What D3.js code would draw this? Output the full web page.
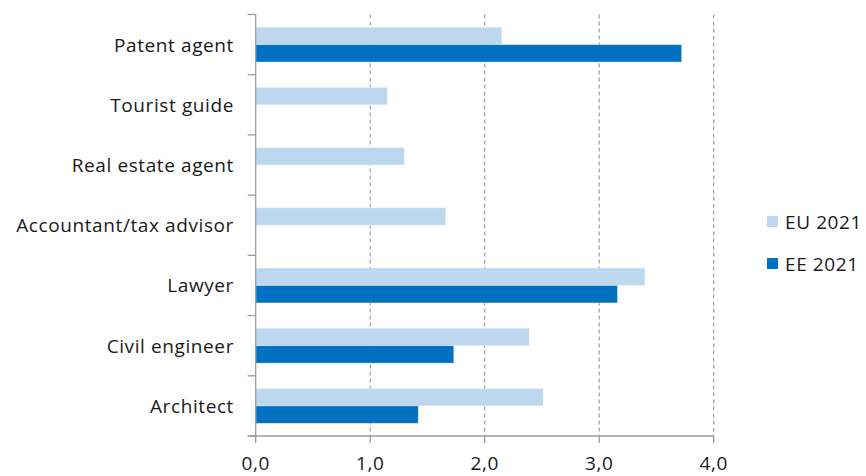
<!DOCTYPE html>
<html><head><meta charset="utf-8">
<script src="https://cdn.jsdelivr.net/npm/d3@7"></script>
<style>body{margin:0;background:#fff;} svg{display:block;}</style>
</head><body>
<svg id="c" width="866" height="476"></svg>
<script>
const categories = ["Patent agent","Tourist guide","Real estate agent","Accountant/tax advisor","Lawyer","Civil engineer","Architect"];
const seriesNames = ["EU 2021","EE 2021"];
const eu2021 = [2.15, 1.15, 1.30, 1.66, 3.40, 2.39, 2.51];
const ee2021 = [3.72, null, null, null, 3.16, 1.73, 1.42];
const xTicks = [0,1,2,3,4];
const colors = ["#BDD7EE","#0070C0"];

(function(){
const svg = d3.select("#c");
const font = "'Open Sans', Lato, sans-serif";
const fs = 19, ls = 0.6;
const pL = 255.7, pR = 713.7, pT = 14.5, pB = 436;
const x = d3.scaleLinear().domain([0,4]).range([pL,pR]);
const y = d3.scaleBand().domain(categories).range([pT,pB]).paddingInner(0.42).paddingOuter(0.21);
const y1 = d3.scaleBand().domain(seriesNames).range([0,y.bandwidth()]);

// gridlines
svg.append("g").selectAll("line").data(xTicks.filter(d=>d>0)).join("line")
  .attr("x1",d=>x(d)).attr("x2",d=>x(d)).attr("y1",pT).attr("y2",pB)
  .attr("stroke","#8c8c8c").attr("stroke-width",1).attr("stroke-dasharray","4,3");

// bars
const data = [];
categories.forEach((c,i)=>{
  [eu2021[i], ee2021[i]].forEach((v,j)=>{ if(v!=null) data.push({c, s:seriesNames[j], v, j}); });
});
svg.append("g").selectAll("rect").data(data).join("rect")
  .attr("x",x(0)).attr("y",d=>y(d.c)+y1(d.s))
  .attr("width",d=>x(d.v)-x(0)).attr("height",y1.bandwidth())
  .attr("fill",d=>colors[d.j]).attr("stroke","#ffffff").attr("stroke-opacity",0.5).attr("stroke-width",0.8);

// y axis
const yAxis = svg.append("g");
yAxis.append("line").attr("x1",pL).attr("x2",pL).attr("y1",pT).attr("y2",pB).attr("stroke","#9a9a9a").attr("stroke-width",1.3);
const yTickPos = d3.range(categories.length+1).map(i=>pT + i*(pB-pT)/categories.length);
yAxis.selectAll("line.t").data(yTickPos).join("line").attr("class","t")
  .attr("x1",pL-8).attr("x2",pL).attr("y1",d=>d).attr("y2",d=>d).attr("stroke","#9a9a9a").attr("stroke-width",1.3);
yAxis.selectAll("text").data(categories).join("text")
  .attr("x",234).attr("y",d=>y(d)+y.bandwidth()/2)
  .attr("text-anchor","end").attr("dominant-baseline","central")
  .attr("font-family",font).attr("font-size",fs).attr("letter-spacing",ls).attr("fill","#1a1a1a").text(d=>d);

// x axis
const xAxis = svg.append("g");
xAxis.append("line").attr("x1",pL-8).attr("x2",pR).attr("y1",pB).attr("y2",pB).attr("stroke","#9a9a9a").attr("stroke-width",1.3);
xAxis.selectAll("line.t").data(xTicks).join("line").attr("class","t")
  .attr("x1",d=>x(d)).attr("x2",d=>x(d)).attr("y1",pB).attr("y2",pB+7).attr("stroke","#9a9a9a").attr("stroke-width",1.3);
xAxis.selectAll("text").data(xTicks).join("text")
  .attr("x",d=>x(d)).attr("y",470).attr("text-anchor","middle")
  .attr("font-family",font).attr("font-size",fs).attr("letter-spacing",ls).attr("fill","#1a1a1a")
  .text(d=>d.toFixed(1).replace(".",","));

// legend
const lg = svg.append("g").selectAll("g").data(seriesNames).join("g")
  .attr("transform",(d,i)=>`translate(767,${216+i*42})`);
lg.append("rect").attr("width",11).attr("height",11).attr("fill",(d,i)=>colors[i]);
lg.append("text").attr("x",18).attr("y",5.5).attr("dominant-baseline","central")
  .attr("font-family",font).attr("font-size",fs).attr("letter-spacing",ls).attr("fill","#1a1a1a").text(d=>d);
})();
</script>
</body></html>
